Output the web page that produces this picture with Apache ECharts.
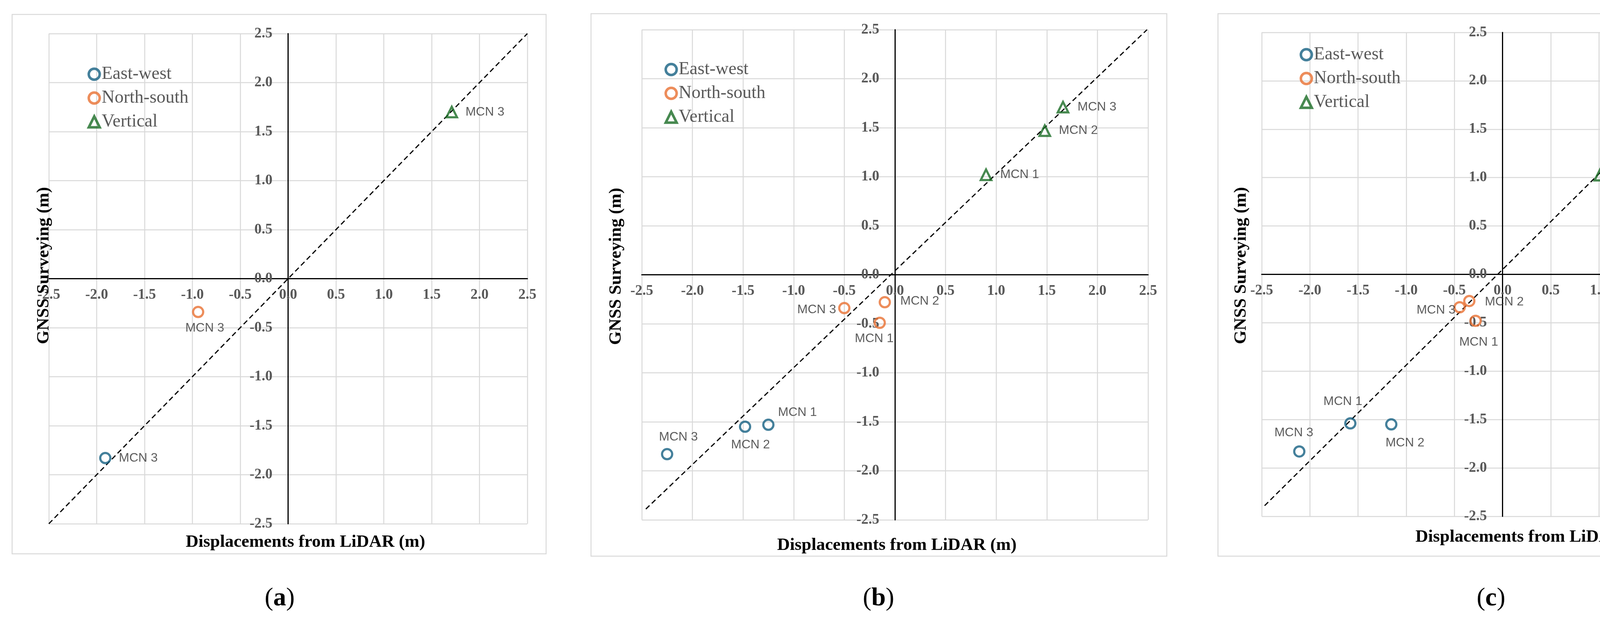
<!DOCTYPE html>
<html>
<head>
<meta charset="utf-8">
<script src="https://cdn.jsdelivr.net/npm/echarts@6/dist/echarts.min.js"></script>
<style>
html, body { margin: 0; padding: 0; background: #fff; }
#chart { width: 4542px; height: 1590px; }
</style>
</head>
<body>
<div id="chart"></div>
<script>
// ---- data (metres) ----
var seriesNames = ['East-west', 'North-south', 'Vertical'];
var panelTags = ['a', 'b', 'c'];

// panel (a): only MCN 3
var ewA_lbl = ['MCN 3'], ewA_x = [-1.91], ewA_y = [-1.83];
var nsA_lbl = ['MCN 3'], nsA_x = [-0.94], nsA_y = [-0.34];
var vA_lbl  = ['MCN 3'], vA_x  = [1.71],  vA_y  = [1.70];

// panel (b)
var ewB_lbl = ['MCN 1', 'MCN 2', 'MCN 3'], ewB_x = [-1.25, -1.48, -2.25], ewB_y = [-1.53, -1.55, -1.83];
var nsB_lbl = ['MCN 1', 'MCN 2', 'MCN 3'], nsB_x = [-0.15, -0.10, -0.50], nsB_y = [-0.49, -0.28, -0.34];
var vB_lbl  = ['MCN 1', 'MCN 2', 'MCN 3'], vB_x  = [0.90, 1.48, 1.66],    vB_y  = [1.02, 1.47, 1.71];

// panel (c)
var ewC_lbl = ['MCN 1', 'MCN 2', 'MCN 3'], ewC_x = [-1.58, -1.155, -2.11], ewC_y = [-1.54, -1.55, -1.83];
var nsC_lbl = ['MCN 1', 'MCN 2', 'MCN 3'], nsC_x = [-0.28, -0.345, -0.445], nsC_y = [-0.48, -0.275, -0.34];
var vC_lbl  = ['MCN 1', 'MCN 2', 'MCN 3'], vC_x  = [1.01, 1.45, 1.67],     vC_y  = [1.025, 1.46, 1.71];

// dashed reference line end points
var lineA = [[-2.5, -2.5], [2.5, 2.5]];
var lineB = [[-2.46, -2.39], [2.49, 2.5]];
var lineC = [[-2.47, -2.39], [2.48, 2.5]];

var axisMin = -2.5, axisMax = 2.5, axisStep = 0.5;

// ---- layout / style ----
var colors = ['#156082', '#E97132', '#196B24'];
var symbols = ['circle', 'circle', 'triangle'];
var grids = [
    { left: 125,  top: 86, width: 1225, height: 1255 },
    { left: 1643, top: 76, width: 1296, height: 1255 },
    { left: 3230, top: 83, width: 1233, height: 1239 }
];
var legendPos = [[219, 160], [1696, 148], [3322, 110]];
var frames = [[31, 37, 1367, 1381], [1513, 35, 1474, 1389], [3118, 35, 1394, 1389]];
var yTitlePos = [[112, 680], [1577, 682], [3177, 680]];
var xTitlePos = [[782, 1388], [2296, 1396], [3930, 1375]];
var captionPos = [[716, 1533], [2249, 1533], [3817, 1533]];

// label placement per point: [position, distance, offset]
var labelPlace = [
    [
        [['right', 19, [0, 0]]],
        [['bottom', 10, [17, 0]]],
        [['right', 19, [0, 0]]]
    ],
    [
        [['right', 9, [0, -31]], ['bottom', 15, [14, 0]], ['top', 12, [29, 0]]],
        [['bottom', 9, [-14, 0]], ['right', 24, [0, -3]], ['left', 5, [0, 4]]],
        [['right', 20, [0, 0]], ['right', 20, [0, 0]], ['right', 21, [0, 0]]]
    ],
    [
        [['top', 24, [-19, 0]], ['bottom', 16, [35, 0]], ['top', 16, [-14, 0]]],
        [['bottom', 23, [8, 0]], ['right', 24, [0, 3]], ['left', -5, [0, 7]]],
        [['right', 20, [0, 0]], ['right', 18, [0, 0]], ['right', 21, [0, 0]]]
    ]
];

var panelData = [
    [[ewA_x, ewA_y, ewA_lbl], [nsA_x, nsA_y, nsA_lbl], [vA_x, vA_y, vA_lbl]],
    [[ewB_x, ewB_y, ewB_lbl], [nsB_x, nsB_y, nsB_lbl], [vB_x, vB_y, vB_lbl]],
    [[ewC_x, ewC_y, ewC_lbl], [nsC_x, nsC_y, nsC_lbl], [vC_x, vC_y, vC_lbl]]
];
var panelLines = [lineA, lineB, lineC];

var tickFont = {
    fontFamily: 'Liberation Serif',
    fontWeight: 'bold',
    fontSize: 37,
    color: '#595959'
};

// axes cross at zero: shift each axis into its grid by the zero position
function makeAxis(i, isX) {
    var g = grids[i];
    return {
        type: 'value',
        gridIndex: i,
        min: axisMin,
        max: axisMax,
        interval: axisStep,
        position: isX ? 'bottom' : 'left',
        offset: isX ? -g.height * (0 - axisMin) / (axisMax - axisMin)
                    : -g.width * (0 - axisMin) / (axisMax - axisMin),
        axisLine: {
            show: true,
            onZero: false,
            lineStyle: { color: '#000', width: 3 }
        },
        axisTick: { show: false },
        axisLabel: Object.assign({
            margin: isX ? 23 : 40,
            formatter: function (v) { return v.toFixed(1); }
        }, tickFont),
        splitLine: {
            show: true,
            lineStyle: { color: '#d9d9d9', width: 2.5 }
        }
    };
}

var xAxes = [], yAxes = [], series = [], legends = [], graphics = [];

for (var i = 0; i < 3; i++) {
    xAxes.push(makeAxis(i, true));
    yAxes.push(makeAxis(i, false));

    series.push({
        name: '1:1',
        type: 'line',
        xAxisIndex: i,
        yAxisIndex: i,
        data: panelLines[i],
        symbol: 'none',
        silent: true,
        z: 3,
        lineStyle: { color: '#000', width: 3, type: [13, 8] }
    });

    for (var s = 0; s < 3; s++) {
        var d = panelData[i][s];
        var items = [];
        for (var k = 0; k < d[0].length; k++) {
            var lp = labelPlace[i][s][k];
            items.push({
                name: d[2][k],
                value: [d[0][k], d[1][k]],
                label: { position: lp[0], distance: lp[1], offset: lp[2] }
            });
        }
        series.push({
            name: seriesNames[s],
            type: 'scatter',
            xAxisIndex: i,
            yAxisIndex: i,
            symbol: symbols[s],
            symbolSize: s === 2 ? 27 : 26,
            z: 5,
            itemStyle: {
                color: 'rgba(255,255,255,0)',
                borderColor: colors[s],
                borderWidth: 5.5
            },
            label: {
                show: true,
                formatter: '{b}',
                fontFamily: 'Liberation Sans',
                fontSize: 32,
                color: '#333'
            },
            data: items
        });
    }

    legends.push({
        orient: 'vertical',
        left: legendPos[i][0],
        top: legendPos[i][1],
        itemWidth: 28,
        itemHeight: 28,
        itemGap: 11,
        data: seriesNames,
        selectedMode: false,
        itemStyle: { borderWidth: 6.5 },
        textStyle: {
            fontFamily: 'Liberation Serif',
            fontSize: 46,
            lineHeight: 50,
            color: '#595959'
        }
    });

    graphics.push({
        type: 'rect',
        shape: { x: frames[i][0], y: frames[i][1], width: frames[i][2], height: frames[i][3] },
        style: { fill: 'none', stroke: '#d9d9d9', lineWidth: 2.5 },
        silent: true,
        z: -10
    });
    graphics.push({
        type: 'text',
        x: yTitlePos[i][0],
        y: yTitlePos[i][1],
        rotation: Math.PI / 2,
        style: {
            text: 'GNSS Surveying (m)',
            align: 'center',
            verticalAlign: 'middle',
            font: 'bold 45px "Liberation Serif"',
            fill: '#000'
        },
        z: 20
    });
    graphics.push({
        type: 'text',
        x: xTitlePos[i][0],
        y: xTitlePos[i][1],
        style: {
            text: 'Displacements from LiDAR (m)',
            align: 'center',
            verticalAlign: 'middle',
            font: 'bold 45px "Liberation Serif"',
            fill: '#000'
        },
        z: 20
    });
    graphics.push({
        type: 'text',
        x: captionPos[i][0],
        y: captionPos[i][1],
        style: {
            text: '(' + '{b|' + panelTags[i] + '}' + ')',
            align: 'center',
            verticalAlign: 'middle',
            font: '66px "Liberation Serif"',
            fill: '#000',
            rich: {
                b: { font: 'bold 66px "Liberation Serif"', fill: '#000' }
            }
        },
        z: 20
    });
}

var myChart = echarts.init(document.getElementById('chart'), null, { renderer: 'canvas' });
var option = {
    backgroundColor: '#fff',
    animation: false,
    grid: grids,
    xAxis: xAxes,
    yAxis: yAxes,
    legend: legends,
    series: series,
    graphic: graphics
};
myChart.setOption(option);
</script>
</body>
</html>
